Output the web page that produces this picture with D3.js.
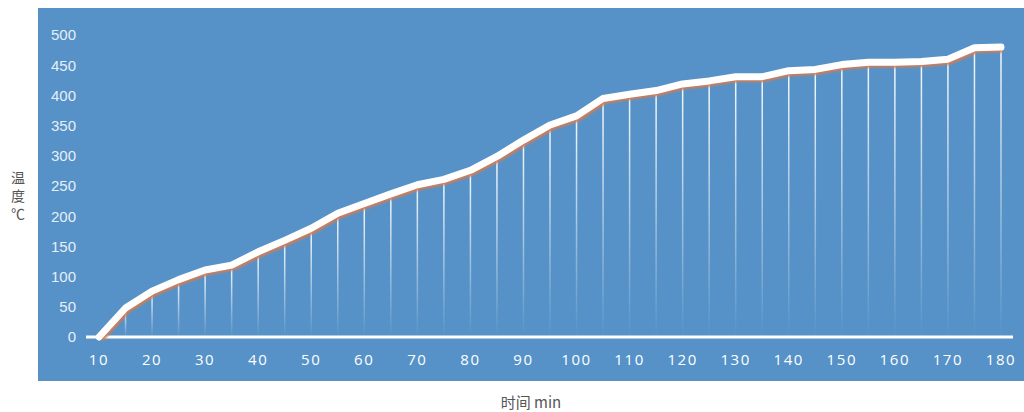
<!DOCTYPE html>
<html>
<head>
<meta charset="utf-8">
<script src="https://cdn.jsdelivr.net/npm/d3@7"></script>
<style>
  html, body { margin: 0; padding: 0; background: #fff; }
  svg { display: block; }
</style>
</head>
<body>
<div id="chart"></div>
<script>
// time (min) and temperature (℃)
const times = d3.range(10, 181, 5);
const temps = [0, 48, 76, 95, 111, 119, 141, 160, 180, 205, 221, 237, 252, 261, 276, 299, 326, 351, 366,
               395, 402, 408, 419, 424, 431, 431, 441, 443, 451, 455, 455, 456, 460, 479, 480];
const xTicks = d3.range(10, 181, 10);
const yTicks = d3.range(0, 501, 50);

const width = 1024, height = 412;
const data = times.map((t, i) => ({ t, v: temps[i] }));

const svg = d3.select("#chart").append("svg")
    .attr("width", width)
    .attr("height", height);

const defs = svg.append("defs");
const grad = defs.append("linearGradient")
    .attr("id", "drop")
    .attr("x1", 0).attr("y1", 0).attr("x2", 0).attr("y2", 1);
grad.append("stop").attr("offset", "0%").attr("stop-color", "#fff").attr("stop-opacity", 0.95);
grad.append("stop").attr("offset", "100%").attr("stop-color", "#fff").attr("stop-opacity", 0);

defs.append("filter").attr("id", "blur")
    .append("feGaussianBlur").attr("stdDeviation", 1);

// panel background
svg.append("rect")
    .attr("x", 38).attr("y", 8)
    .attr("width", width - 38).attr("height", 373)
    .attr("fill", "#5692c7");

const x = d3.scaleLinear().domain([10, 180]).range([99, 1001]);
const y = d3.scaleLinear().domain([0, 500]).range([337, 35]);

// y tick labels
svg.append("g")
    .selectAll("text")
    .data(yTicks)
    .join("text")
    .attr("x", 76)
    .attr("y", d => y(d))
    .attr("dy", "0.36em")
    .attr("text-anchor", "end")
    .style("font-family", "'Liberation Sans', Arial, sans-serif")
    .style("font-size", "15px")
    .style("fill", "#e6eef7")
    .text(d => d);

// x tick labels
svg.append("g")
    .selectAll("text")
    .data(xTicks)
    .join("text")
    .attr("x", d => x(d))
    .attr("y", 360)
    .attr("dy", "0.36em")
    .attr("text-anchor", "middle")
    .style("font-family", "'Open Sans', sans-serif")
    .style("font-size", "15px")
    .style("letter-spacing", "1.6px")
    .style("fill", "#fff")
    .text(d => d);

// drop lines
svg.append("g")
    .selectAll("rect")
    .data(data.filter(d => d.v > 0))
    .join("rect")
    .attr("x", d => x(d.t) - 0.75)
    .attr("y", d => y(d.v))
    .attr("width", 1.5)
    .attr("height", d => y(0) - y(d.v))
    .attr("fill", "url(#drop)");

// x axis line
svg.append("line")
    .attr("x1", 86).attr("x2", 1013)
    .attr("y1", y(0)).attr("y2", y(0))
    .attr("stroke", "#fff")
    .attr("stroke-width", 3);

const line = d3.line().x(d => x(d.t)).y(d => y(d.v));

// orange shadow
svg.append("path")
    .datum(data)
    .attr("d", line)
    .attr("transform", "translate(2,2.5)")
    .attr("fill", "none")
    .attr("stroke", "#d27c55")
    .attr("stroke-width", 5.5)
    .attr("stroke-linejoin", "round")
    .attr("filter", "url(#blur)");

// main line
svg.append("path")
    .datum(data)
    .attr("d", line)
    .attr("fill", "none")
    .attr("stroke", "#fff")
    .attr("stroke-width", 7)
    .attr("stroke-linejoin", "round")
    .attr("stroke-linecap", "round");

// axis titles
const yTitle = svg.append("text")
    .attr("text-anchor", "middle")
    .style("font-family", "'Noto Sans CJK SC', sans-serif")
    .style("font-size", "14px")
    .style("fill", "#555");
["温", "度", "℃"].forEach((c, i) => {
    yTitle.append("tspan").attr("x", 18).attr("y", 178 + i * 18).attr("dy", "0.36em").text(c);
});

svg.append("text")
    .attr("x", 531).attr("y", 403)
    .attr("dy", "0.36em")
    .attr("text-anchor", "middle")
    .style("font-family", "'Noto Sans CJK SC', sans-serif")
    .style("font-size", "15px")
    .style("fill", "#555")
    .text("时间 min");
</script>
</body>
</html>
